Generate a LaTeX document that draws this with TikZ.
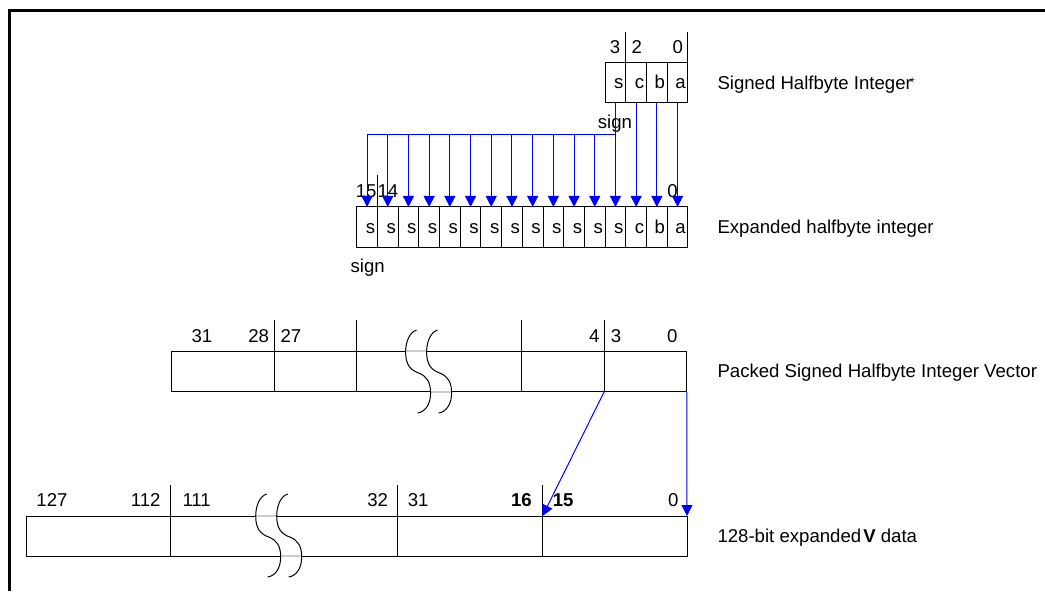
\documentclass[tikz,border=0pt]{standalone}
\usepackage{fontspec}
\setmainfont{Liberation Sans}
\usetikzlibrary{arrows.meta, positioning, calc}
\definecolor{wireblue}{RGB}{0,0,255}
\newcommand{\cutmark}[2]{%
  \draw[shift={(#1,#2)}] (0,0) .. controls (-7,2) and (-11,12) .. (-11,22)
    .. controls (-11,35) and (-6,40) .. (2,43)
    .. controls (10,46) and (14,52) .. (14,63)
    .. controls (14,75) and (8,82) .. (1,83);}

\begin{document}
\begin{tikzpicture}[
    x=0.5pt, y=-0.5pt, line width=0.5pt,
    font=\fontsize{9.3}{11}\selectfont,
    bitcell/.style={draw, outer sep=0pt, inner xsep=1.15pt, inner ysep=0pt, text width=8.05pt, align=right, minimum height=20.25pt, text height=6pt, text depth=0pt},
    fieldbox/.style={draw, outer sep=0pt, inner sep=0pt, minimum height=20.25pt},
    bitnum/.style={inner sep=0pt, anchor=base},
    desc/.style={inner sep=0pt, anchor=base west},
    wire/.style={wireblue, line width=0.5pt},
    wirearrow/.style={wire, -{Triangle[length=5.5pt, width=5.5pt]}}
]
\useasboundingbox (0,0) rectangle (1045,591);
\draw[line width=1.5pt] (9,591) -- (9,10) -- (1045,10);

% signed halfbyte integer
\foreach \t [count=\i from 0] in {s,c,b,a}
  \node[bitcell] (h\i) at ({367.05+20.7*(\i+12)},82.5) {\t};
\draw (h0.north east) -- ++(0,-30);
\draw (h3.north east) -- ++(0,-30);
\node[bitnum] (n3) at (615,53.6) {3};
\node[bitnum] (n2) at (636.7,53.6) {2};
\node[bitnum] (n0) at (677.7,53.6) {0};
\node[bitnum] (sgn1) at (615,128.5) {sign};

% expanded halfbyte integer
\foreach \t [count=\i from 0] in {s,s,s,s,s,s,s,s,s,s,s,s,s,c,b,a}
  \node[bitcell] (e\i) at ({367.05+20.7*\i},227.2) {\t};
\draw (e0.north east) -- ++(0,-31.5);
\node[bitnum, anchor=base east] (m15) at (377,197.6) {15};
\node[bitnum, anchor=base west] (m14) at (377,197.6) {14};
\node[bitnum] (m0) at (672.5,197.6) {0};
\node[bitnum] (sgn2) at (367.7,272.7) {sign};

% sign fan-out
\coordinate (fan) at ($(h0.south)+(0,31.5)$);
\draw[wire] (h0.south) -- (fan) -- (fan -| e0.north);
\foreach \i in {0,...,12}
  \draw[wirearrow] (fan -| e\i.north) -- (e\i.north);
\foreach \i/\j in {1/13,2/14,3/15}
  \draw[wirearrow] (h\i.south) -- (e\j.north);

% packed vector
\node[fieldbox, minimum width=51.3pt] (pk7) at (222.7,371.5) {};
\node[fieldbox, minimum width=41.3pt, right=0pt of pk7] (pk6) {};
\node[fieldbox, minimum width=82.5pt, right=0pt of pk6] (pkgap) {};
\node[fieldbox, minimum width=41.3pt, right=0pt of pkgap] (pk1) {};
\node[fieldbox, minimum width=41.35pt, right=0pt of pk1] (pk0) {};
\foreach \n in {pk7,pk6,pkgap,pk1}
  \draw (\n.north east) -- ++(0,-31);
\node[bitnum] (p31) at (202,342) {31};
\node[bitnum, anchor=base east] (p28) at (269.5,342) {28};
\node[bitnum, anchor=base west] (p27) at (280,342) {27};
\node[bitnum, anchor=base east] (p4) at (600,342) {4};
\node[bitnum, anchor=base west] (p3) at (610.4,342) {3};
\node[bitnum] (p0) at (672.3,342) {0};
\draw[gray!40, line width=0.7pt] (405.6,351) -- (426.6,351) (430.6,392) -- (451.6,392);
\cutmark{416.6}{330}
\cutmark{437.6}{330}

% 128-bit data
\node[fieldbox, minimum width=72.1pt, minimum height=20pt] (vd3) at (98.6,536) {};
\node[fieldbox, minimum width=113.4pt, minimum height=20pt, right=0pt of vd3] (vdgap) {};
\node[fieldbox, minimum width=72.5pt, minimum height=20pt, right=0pt of vdgap] (vd1) {};
\node[fieldbox, minimum width=72.25pt, minimum height=20pt, right=0pt of vd1] (vd0) {};
\foreach \n in {vd3,vdgap,vd1}
  \draw (\n.north east) -- ++(0,-31);
\node[bitnum] (v127) at (52,506.6) {127};
\node[bitnum, anchor=base east] (v112) at (161,506.6) {112};
\node[bitnum, anchor=base west] (v111) at (182,506.6) {111};
\node[bitnum, anchor=base east] (v32) at (388.5,506.6) {32};
\node[bitnum, anchor=base west] (v31) at (407.3,506.6) {31};
\node[bitnum, anchor=base east] (v16) at (532.3,506.6) {\textbf{16}};
\node[bitnum, anchor=base west] (v15) at (552.4,506.6) {\textbf{15}};
\node[bitnum] (v0) at (673.4,506.6) {0};
\draw[gray!40, line width=0.7pt] (255.7,516) -- (276.7,516) (280.7,556) -- (301.7,556);
\cutmark{266.7}{494}
\cutmark{287.7}{494}

\draw[wirearrow] (pk0.south west) -- (vd0.north west);
\draw[wirearrow] (pk0.south east) -- (vd0.north east);

% descriptions
\node[desc] (d1) at (717,89.3) {Signed Halfbyte Integer\kern-1pt\raisebox{.25ex}{\fontsize{6}{6}\selectfont*}};
\node[desc] (d2) at (717,233.3) {Expanded halfbyte integer};
\node[desc] (d3) at (717,377.3) {Packed Signed Halfbyte Integer Vector};
\node[desc] (d4) at (717,542) {128-bit expanded\kern1pt\textbf{V} data};
\end{tikzpicture}
\end{document}
